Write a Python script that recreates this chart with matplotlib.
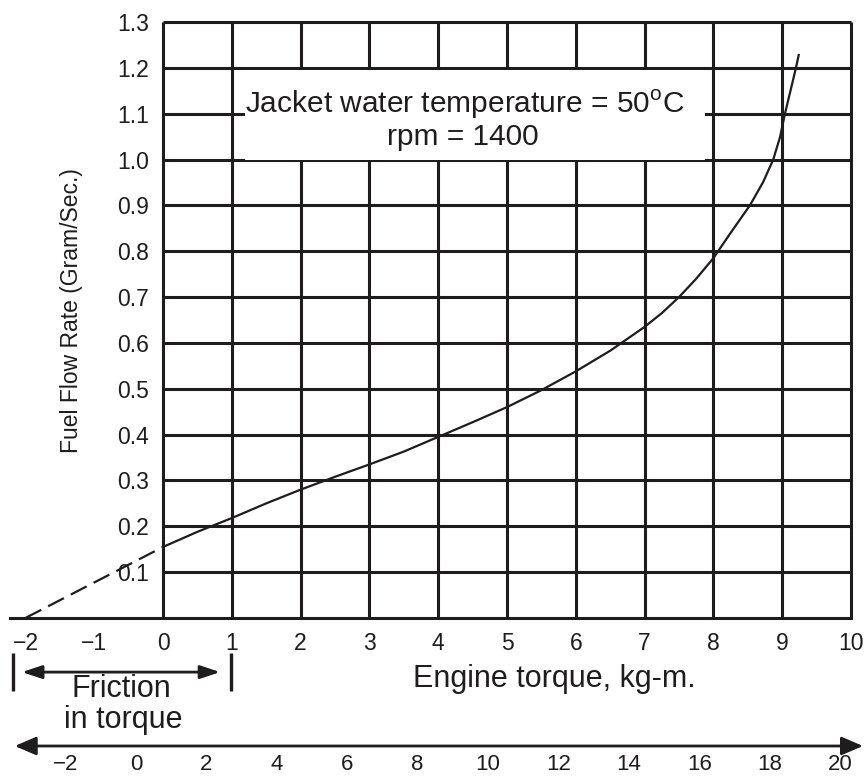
import matplotlib
matplotlib.use('Agg')
import matplotlib.pyplot as plt
from matplotlib.patches import Rectangle, FancyArrowPatch

plt.rcParams['font.family'] = ['Liberation Sans', 'DejaVu Sans']
plt.rcParams['mathtext.fontset'] = 'custom'
plt.rcParams['mathtext.rm'] = 'Liberation Sans'

# fuel flow curve
torque = [0, 0.5, 1, 1.5, 2, 2.5, 3, 3.5, 4, 4.5, 5, 5.5, 6, 6.5, 7, 7.25,
          7.5, 7.75, 8, 8.25, 8.53, 8.72, 8.87, 8.97, 9.04, 9.12, 9.2, 9.24]
fuel_flow = [0.155, 0.188, 0.218, 0.25, 0.28, 0.308, 0.335, 0.363, 0.395,
             0.427, 0.46, 0.497, 0.538, 0.583, 0.635, 0.665, 0.70, 0.74,
             0.785, 0.84, 0.9, 0.95, 1.0, 1.05, 1.1, 1.15, 1.2, 1.228]
# extrapolated part (friction)
extra_torque = [-2, 0]
extra_flow = [0, 0.155]

x_ticks = list(range(-2, 11))
y_ticks = [0.1, 0.2, 0.3, 0.4, 0.5, 0.6, 0.7, 0.8, 0.9, 1.0, 1.1, 1.2, 1.3]
y_labels = ['0.1', '0.2', '0.3', '0.4', '0.5', '0.6', '0.7', '0.8', '0.9',
            '1.0', '1.1', '1.2', '1.3']
second_ticks = list(range(-2, 21, 2))

ink = '#1e1c1c'

fig = plt.figure(figsize=(8.64, 7.78), dpi=100)
ax = fig.add_axes([10.3 / 864, 160 / 778, 840.7 / 864, 596 / 778])
ax.set_xlim(-2.22, 10)
ax.set_ylim(0, 1.3)

# graph paper grid
ax.vlines(range(0, 11), 0, 1.3, color=ink, lw=2.2, zorder=1, clip_on=False)
ax.hlines(y_ticks, 0, 10, color=ink, lw=2.2, zorder=1, clip_on=False)

for s in ['top', 'right']:
    ax.spines[s].set_visible(False)
ax.spines['left'].set_position(('data', 0))
ax.spines['left'].set_color('none')
ax.spines['bottom'].set_color(ink)
ax.spines['bottom'].set_linewidth(2.2)

ax.set_xticks(x_ticks)
ax.set_yticks(y_ticks, labels=y_labels)
ax.tick_params(axis='x', length=0, pad=10, labelsize=16.5, labelcolor=ink)
ax.tick_params(axis='y', length=0, pad=10, labelsize=16.5, labelcolor=ink)

ax.plot(torque, fuel_flow, color=ink, lw=1.6, zorder=4)
ax.plot(extra_torque, extra_flow, color=ink, lw=1.6, ls=(0, (8, 3.5)),
        zorder=4, clip_on=False)

# white label box
ax.add_patch(Rectangle((1.19, 1.0), 6.69, 0.195, facecolor='white',
                       edgecolor='none', zorder=2))
ax.text(4.39, 1.101, r'Jacket water temperature = 50$^{\mathrm{o}}$C',
        ha='center', va='baseline', fontsize=21.5, color=ink, zorder=3)
ax.text(4.36, 1.032, 'rpm = 1400', ha='center', va='baseline',
        fontsize=21.5, color=ink, zorder=3)

ax.set_xlabel('Engine torque, kg-m.', fontsize=22, color=ink)
ax.xaxis.set_label_coords(0.6465, -0.1158)
ax.xaxis.label.set_verticalalignment('baseline')
ax.set_ylabel('Fuel Flow Rate (Gram/Sec.)', fontsize=16.5, color=ink)
ax.yaxis.set_label_coords(0.0723, 0.515)
ax.yaxis.label.set_verticalalignment('center')

# friction span marker
ax.add_patch(FancyArrowPatch((-2.05, -0.118), (0.83, -0.118),
                             arrowstyle='<|-|>,head_length=0.6,head_width=0.2',
                             mutation_scale=20, lw=2, color=ink,
                             shrinkA=0, shrinkB=0, clip_on=False))
ax.vlines([-2.18, 0.99], -0.076, -0.159, color=ink, lw=2.4, clip_on=False)
ax.text(-0.6, -0.172, 'Friction', ha='center', va='baseline', fontsize=22,
        color=ink)
ax.text(-0.58, -0.24, 'in torque', ha='center', va='baseline', fontsize=22,
        color=ink)

# second torque scale at the bottom
ax2 = fig.add_axes([0, 32 / 778, 1, 0.02])
ax2.set_xlim(-3.86, 20.68)
ax2.set_ylim(0, 1)
ax2.patch.set_visible(False)
for s in ax2.spines.values():
    s.set_visible(False)
ax2.set_yticks([])
ax2.set_xticks(second_ticks)
ax2.tick_params(axis='x', length=0, pad=6, labelsize=16, labelcolor=ink)
ax2.add_patch(FancyArrowPatch((-3.44, 0), (20.65, 0),
                              arrowstyle='<|-|>,head_length=0.65,head_width=0.28',
                              mutation_scale=20, lw=2, color=ink,
                              shrinkA=0, shrinkB=0, clip_on=False))

fig.savefig('out.png', dpi=100)
